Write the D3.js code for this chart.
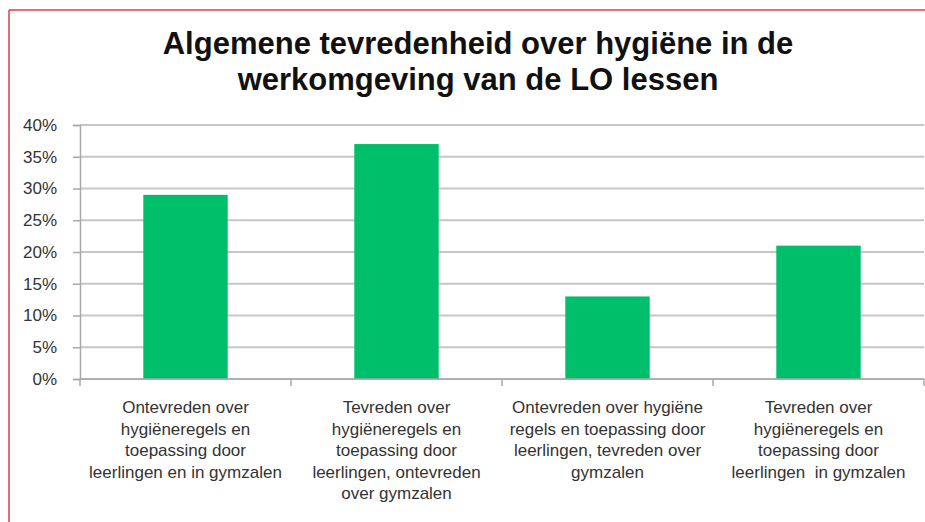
<!DOCTYPE html>
<html>
<head>
<meta charset="utf-8">
<script src="https://cdn.jsdelivr.net/npm/d3@7"></script>
<style>
  body { margin: 0; background: #fff; }
  svg { display: block; }
  .title { font-family: "Liberation Sans", Arial, sans-serif; font-weight: bold; font-size: 31px; fill: #111; }
  .lbl { font-family: "Liberation Sans Narrow", "Liberation Sans", sans-serif; font-size: 17px; fill: #333; }
</style>
</head>
<body>
<div id="chart"></div>
<script>
// data
var categories = ["c1", "c2", "c3", "c4"];
var categoryLabels = [
  ["Ontevreden over", "hygiëneregels en", "toepassing door", "leerlingen en in gymzalen"],
  ["Tevreden over", "hygiëneregels en", "toepassing door", "leerlingen, ontevreden", "over gymzalen"],
  ["Ontevreden over hygiëne", "regels en toepassing door", "leerlingen, tevreden over", "gymzalen"],
  ["Tevreden over", "hygiëneregels en", "toepassing door", "leerlingen  in gymzalen"]
];
var values = [29, 37, 13, 21];
var yTicks = [0, 5, 10, 15, 20, 25, 30, 35, 40];
var titleLines = ["Algemene tevredenheid over hygiëne in de", "werkomgeving van de LO lessen"];

var width = 925, height = 522;
var plotLeft = 80, plotRight = 924, plotTop = 125, plotBottom = 379;

var svg = d3.select("#chart").append("svg")
  .attr("width", width)
  .attr("height", height);

// red frame of the page
svg.append("line").attr("x1", 9).attr("x2", 9).attr("y1", 10).attr("y2", height)
  .attr("stroke", "#d6404a").attr("stroke-width", 1.5);
svg.append("line").attr("x1", 9).attr("x2", width).attr("y1", 10).attr("y2", 10)
  .attr("stroke", "#d6404a").attr("stroke-width", 1.5);

svg.selectAll(".title").data(titleLines).enter().append("text")
  .attr("class", "title")
  .attr("x", 478)
  .attr("y", function(d, i) { return 54 + i * 36; })
  .attr("text-anchor", "middle")
  .text(function(d) { return d; });

var x = d3.scaleBand()
  .domain(categories)
  .range([plotLeft, plotRight])
  .paddingInner(0.6)
  .paddingOuter(0.3);

var y = d3.scaleLinear()
  .domain([0, 40])
  .range([plotBottom, plotTop]);

// gridlines
svg.append("g").selectAll("line").data(yTicks).enter().append("line")
  .attr("x1", plotLeft).attr("x2", plotRight)
  .attr("y1", function(d) { return y(d); })
  .attr("y2", function(d) { return y(d); })
  .attr("stroke", "#c6c6c6")
  .attr("stroke-width", 2);

// y axis
var yAxis = svg.append("g")
  .attr("transform", "translate(" + plotLeft + ",0)")
  .call(d3.axisLeft(y).tickValues(yTicks).tickSize(7).tickPadding(16).tickFormat(function(d) { return d + "%"; }));
yAxis.select(".domain").attr("stroke", "#a8a8a8").attr("stroke-width", 1.5);
yAxis.selectAll(".tick line").attr("stroke", "#a8a8a8").attr("stroke-width", 1.5);
yAxis.selectAll(".tick text")
  .attr("class", "lbl")
  .attr("fill", "#333");

// bars
svg.append("g").selectAll("rect").data(values).enter().append("rect")
  .attr("x", function(d, i) { return x(categories[i]); })
  .attr("y", function(d) { return y(d); })
  .attr("width", x.bandwidth())
  .attr("height", function(d) { return y(0) - y(d); })
  .attr("fill", "#00bf6b");

// x axis line and category boundary ticks
svg.append("line")
  .attr("x1", plotLeft).attr("x2", plotRight)
  .attr("y1", plotBottom).attr("y2", plotBottom)
  .attr("stroke", "#a8a8a8").attr("stroke-width", 1.5);

var step = x.step();
var tickXs = [plotLeft].concat(categories.map(function(c, i) { return plotLeft + step * (i + 1); }));
svg.append("g").selectAll("line").data(tickXs).enter().append("line")
  .attr("x1", function(d) { return d; }).attr("x2", function(d) { return d; })
  .attr("y1", plotBottom).attr("y2", plotBottom + 7)
  .attr("stroke", "#a8a8a8").attr("stroke-width", 1.5);

// category labels
var cat = svg.append("g").selectAll("text").data(categoryLabels).enter().append("text")
  .attr("class", "lbl")
  .attr("text-anchor", "middle")
  .attr("x", function(d, i) { return x(categories[i]) + x.bandwidth() / 2; })
  .attr("y", 413);
cat.selectAll("tspan").data(function(d) { return d; }).enter().append("tspan")
  .attr("x", function() { return d3.select(this.parentNode).attr("x"); })
  .attr("dy", function(d, i) { return i === 0 ? 0 : 21.5; })
  .style("white-space", "pre")
  .text(function(d) { return d; });
</script>
</body>
</html>
